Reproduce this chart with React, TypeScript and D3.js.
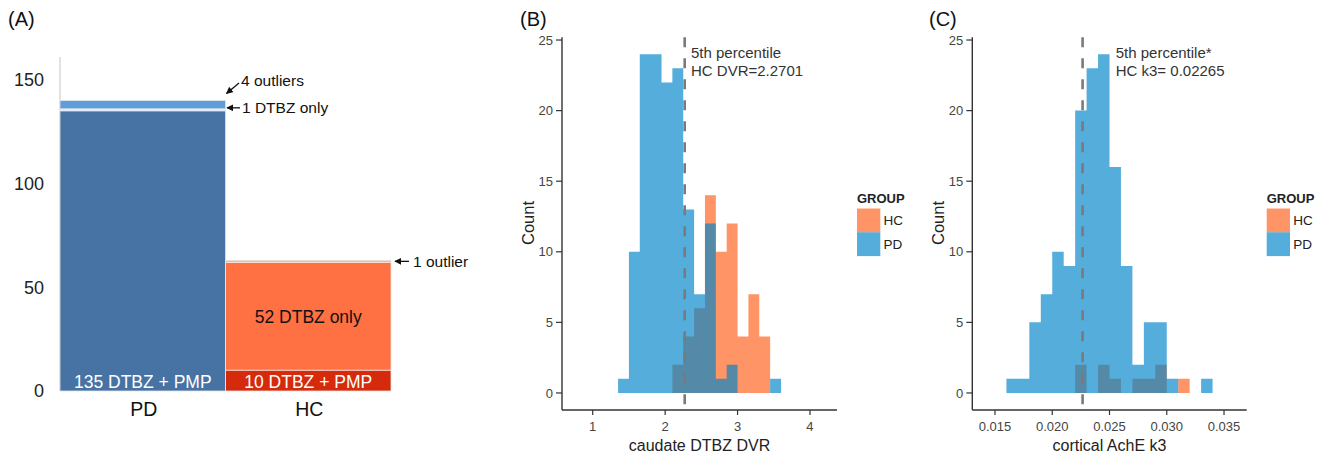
import React from "react";
import * as d3 from "d3";

const FONT = "'Liberation Sans', Arial, Helvetica, sans-serif";

// ---------- Panel A data ----------
const aCategories = ["PD", "HC"];
const aPDStack = [135, 1, 4]; // DTBZ + PMP, DTBZ only, outliers
const aHCStack = [10, 52, 1]; // DTBZ + PMP, DTBZ only, outlier
const aYTicks = [0, 50, 100, 150];

// ---------- Panel B data ----------
const bEdges = [1.35, 1.5, 1.65, 1.8, 1.95, 2.1, 2.25, 2.4, 2.55, 2.7, 2.85, 3.0, 3.15, 3.3, 3.45, 3.6];
const bPD = [1, 10, 24, 24, 22, 23, 13, 7, 12, 1, 2, 0, 0, 0, 1];
const bHC = [0, 0, 0, 0, 0, 2, 4, 6, 14, 10, 12, 4, 7, 4, 0];
const bXTicks = [1, 2, 3, 4];
const bCutoff = 2.2701;

// ---------- Panel C data ----------
const cEdges = [0.016, 0.017, 0.018, 0.019, 0.02, 0.021, 0.022, 0.023, 0.024, 0.025, 0.026, 0.027, 0.028, 0.029, 0.03, 0.031, 0.032, 0.033, 0.034];
const cPD = [1, 1, 5, 7, 10, 9, 20, 23, 24, 16, 9, 2, 5, 5, 1, 0, 0, 1];
const cHC = [0, 0, 0, 0, 0, 0, 2, 0, 2, 1, 0, 1, 1, 2, 0, 1, 0, 0];
const cXTicks = [0.015, 0.02, 0.025, 0.03, 0.035];
const cCutoff = 0.02265;

const countTicks = [0, 5, 10, 15, 20, 25];
const groups = ["HC", "PD"];

const HC_FILL = "#FF9466";
const PD_FILL = "#0085C9";
const PD_OPACITY = 0.67;

function histPath(edges: number[], counts: number[], x: any, y: any) {
  const p = d3.path();
  counts.forEach((c, i) => {
    if (c <= 0) return;
    const x0 = x(edges[i]);
    const x1 = x(edges[i + 1]);
    p.rect(x0, y(c), x1 - x0, y(0) - y(c));
  });
  return p.toString();
}

function Histogram(props: any) {
  const { axisLeft, axisRight, xDomain, edges, pd, hc, xTicks, fmt, cutoff, note1, note2, noteX, title, legendX, label, labelX } = props;
  const x = d3.scaleLinear().domain(xDomain).range([axisLeft, axisRight]);
  const y = d3.scaleLinear().domain([-1.2, 25.2]).range([409.9, 37.2]);
  const axisY = 410;
  return (
    <g fontFamily={FONT}>
      <text x={labelX} y={25.5} fontSize={20} fill="#111">{label}</text>
      <path d={histPath(edges, hc, x, y)} fill={HC_FILL} />
      <path d={histPath(edges, pd, x, y)} fill={PD_FILL} fillOpacity={PD_OPACITY} />
      <line x1={x(cutoff)} x2={x(cutoff)} y1={y(25.2)} y2={axisY} stroke="#7a7a7a" strokeWidth={2.6} strokeDasharray="10 11" />
      {/* axes */}
      <line x1={axisLeft} x2={axisLeft} y1={y(25.2)} y2={axisY} stroke="#333" strokeWidth={1.4} />
      <line x1={axisLeft} x2={axisRight} y1={axisY} y2={axisY} stroke="#333" strokeWidth={1.4} />
      {countTicks.map((t) => (
        <g key={"y" + t}>
          <line x1={axisLeft - 6} x2={axisLeft} y1={y(t)} y2={y(t)} stroke="#333" strokeWidth={1.2} />
          <text x={axisLeft - 9} y={y(t)} dy="0.36em" textAnchor="end" fontSize={13} fill="#444">{t}</text>
        </g>
      ))}
      {xTicks.map((t: number) => (
        <g key={"x" + t}>
          <line x1={x(t)} x2={x(t)} y1={axisY} y2={axisY + 5} stroke="#333" strokeWidth={1.2} />
          <text x={x(t)} y={426} dy="0.36em" textAnchor="middle" fontSize={13} fill="#444">{fmt(t)}</text>
        </g>
      ))}
      <text x={(axisLeft + axisRight) / 2} y={445} dy="0.36em" textAnchor="middle" fontSize={16} fill="#222">{title}</text>
      <text transform={`translate(${axisLeft - 34},${223}) rotate(-90)`} dy="0.36em" textAnchor="middle" fontSize={16.5} fill="#222">Count</text>
      <text x={noteX} y={52.7} dy="0.36em" fontSize={15} fill="#333">{note1}</text>
      <text x={noteX} y={71} dy="0.36em" fontSize={15} fill="#333">{note2}</text>
      {/* legend */}
      <text x={legendX} y={198} dy="0.36em" fontSize={13} fontWeight="bold" fill="#222">GROUP</text>
      {groups.map((g, i) => (
        <g key={g}>
          <rect x={legendX} y={208.5 + i * 23.8} width={23.3} height={23.8} fill={g === "HC" ? HC_FILL : PD_FILL} fillOpacity={g === "HC" ? 1 : PD_OPACITY} />
          <text x={legendX + 26.5} y={220.4 + i * 23.8} dy="0.36em" fontSize={13.5} fill="#222">{g}</text>
        </g>
      ))}
    </g>
  );
}

function PanelA() {
  const x = d3.scaleBand().domain(aCategories).range([60, 391]).padding(0);
  const y = d3.scaleLinear().domain([0, 161]).range([391, 57]);
  const pdColors = ["#4673A3", "#D8E7F6", "#5E9DDA"];
  const hcColors = ["#D52B0C", "#FF7043", "#FFB17F"];
  const stacks = [
    { cat: "PD", vals: aPDStack, colors: pdColors },
    { cat: "HC", vals: aHCStack, colors: hcColors },
  ];
  const segs: any[] = [];
  const seps: any[] = [];
  const totals: any[] = [];
  stacks.forEach((s) => {
    let cum = 0;
    s.vals.forEach((v, i) => {
      segs.push({ cat: s.cat, y0: cum, y1: cum + v, color: s.colors[i], key: s.cat + i });
      if (i > 0) seps.push({ cat: s.cat, v: cum, key: s.cat + "s" + i });
      cum += v;
    });
    totals.push({ cat: s.cat, total: cum });
  });
  const bw = x.bandwidth();
  const pdX = x("PD")! + bw / 2;
  const hcX = x("HC")! + bw / 2;
  return (
    <g fontFamily={FONT}>
      <defs>
        <marker id="arrA" viewBox="0 0 10 10" refX="9" refY="5" markerWidth="7" markerHeight="7" markerUnits="userSpaceOnUse" orient="auto">
          <path d="M0,0 L10,5 L0,10 z" fill="#111" />
        </marker>
      </defs>
      <text x={8} y={25.5} fontSize={20} fill="#111">(A)</text>
      <line x1={60} x2={60} y1={57} y2={391} stroke="#cfcfcf" strokeWidth={1.2} />
      {segs.map((s) => (
        <rect key={s.key} x={x(s.cat)} y={y(s.y1)} width={bw} height={y(s.y0) - y(s.y1)} fill={s.color} />
      ))}
      {seps.map((s) => (
        <line key={s.key} x1={x(s.cat)} x2={x(s.cat)! + bw} y1={y(s.v)} y2={y(s.v)} stroke="#f4f4f4" strokeWidth={0.8} />
      ))}
      {totals.map((t) => (
        <rect key={"o" + t.cat} x={x(t.cat)} y={y(t.total)} width={bw} height={y(0) - y(t.total)} fill="none" stroke="#e4e4e4" strokeWidth={0.8} />
      ))}
      {aYTicks.map((t) => (
        <text key={t} x={44} y={y(t)} dy="0.36em" textAnchor="end" fontSize={18} fill="#222">{t}</text>
      ))}
      {aCategories.map((c) => (
        <text key={c} x={x(c)! + bw / 2 + 1} y={409} dy="0.36em" textAnchor="middle" fontSize={19.5} fill="#111">{c}</text>
      ))}
      <text x={pdX} y={y(4.5)} dy="0.36em" textAnchor="middle" fontSize={17.5} fill="#fff">{`${aPDStack[0]} DTBZ + PMP`}</text>
      <text x={hcX} y={y(aHCStack[0] / 2 - 0.5)} dy="0.36em" textAnchor="middle" fontSize={17.5} fill="#fff">{`${aHCStack[0]} DTBZ + PMP`}</text>
      <text x={hcX} y={y(36)} dy="0.36em" textAnchor="middle" fontSize={17.5} fill="#111">{`${aHCStack[1]} DTBZ only`}</text>
      <line x1={239} y1={83} x2={226.5} y2={93.5} stroke="#111" strokeWidth={1.3} markerEnd="url(#arrA)" />
      <text x={241} y={80} dy="0.36em" fontSize={15.5} fill="#111">{`${aPDStack[2]} outliers`}</text>
      <line x1={240} y1={y(136.5)} x2={227} y2={y(136.5)} stroke="#111" strokeWidth={1.3} markerEnd="url(#arrA)" />
      <text x={242} y={y(136.5)} dy="0.36em" fontSize={15.5} fill="#111">{`${aPDStack[1]} DTBZ only`}</text>
      <line x1={409} y1={y(62.5)} x2={395} y2={y(62.5)} stroke="#111" strokeWidth={1.3} markerEnd="url(#arrA)" />
      <text x={413} y={y(62.5)} dy="0.36em" fontSize={15.5} fill="#111">{`${aHCStack[2]} outlier`}</text>
    </g>
  );
}

export default function App() {
  const fmtB = (t: number) => d3.format("d")(t);
  const fmtC = (t: number) => d3.format(".3f")(t);
  return (
    <svg width={1331} height={458} style={{ position: "absolute", left: 0, top: 0, background: "#fff" }}>
      <rect width={1331} height={458} fill="#fff" />
      <PanelA />
      <Histogram
        axisLeft={562}
        axisRight={837}
        xDomain={[0.576, 4.373]}
        edges={bEdges}
        pd={bPD}
        hc={bHC}
        xTicks={bXTicks}
        fmt={fmtB}
        cutoff={bCutoff}
        note1="5th percentile"
        note2={`HC DVR=${bCutoff}`}
        noteX={691}
        title="caudate DTBZ DVR"
        legendX={857}
        label="(B)"
        labelX={520}
      />
      <Histogram
        axisLeft={972.3}
        axisRight={1246.7}
        xDomain={[0.01302, 0.03698]}
        edges={cEdges}
        pd={cPD}
        hc={cHC}
        xTicks={cXTicks}
        fmt={fmtC}
        cutoff={cCutoff}
        note1="5th percentile*"
        note2={`HC k3= ${cCutoff}`}
        noteX={1115.7}
        title="cortical AchE k3"
        legendX={1266.7}
        label="(C)"
        labelX={929}
      />
    </svg>
  );
}
